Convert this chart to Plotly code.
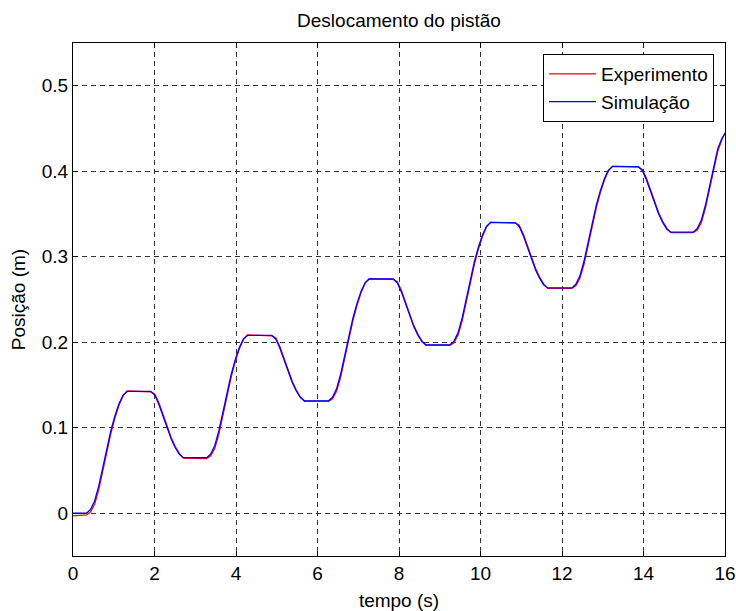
import plotly.graph_objects as go

# time samples (s)
t = [0.00, 0.33, 0.43, 0.53, 0.63, 0.73, 0.83, 0.93, 1.03, 1.13, 1.23, 1.33,
     1.91, 2.01, 2.11, 2.21, 2.31, 2.41, 2.51, 2.61, 2.71,
     3.28, 3.38, 3.48, 3.58, 3.68, 3.78, 3.88, 3.98, 4.08, 4.18, 4.28,
     4.88, 4.98, 5.08, 5.18, 5.28, 5.38, 5.48, 5.58, 5.68,
     6.27, 6.37, 6.47, 6.57, 6.67, 6.77, 6.87, 6.97, 7.07, 7.17, 7.27,
     7.86, 7.96, 8.06, 8.16, 8.26, 8.36, 8.46, 8.56, 8.66,
     9.25, 9.35, 9.45, 9.55, 9.65, 9.75, 9.85, 9.95, 10.05, 10.15, 10.25,
     10.85, 10.95, 11.05, 11.15, 11.25, 11.35, 11.45, 11.55, 11.65,
     12.24, 12.34, 12.44, 12.54, 12.64, 12.74, 12.84, 12.94, 13.04, 13.14, 13.24,
     13.87, 13.97, 14.07, 14.17, 14.27, 14.37, 14.47, 14.57, 14.67,
     15.22, 15.32, 15.42, 15.52, 15.62, 15.72, 15.82, 15.92, 16.00]

# Experimento (m)
experimento = [-0.003, -0.002, 0.0015, 0.0105, 0.0270, 0.0500, 0.0720, 0.0935, 0.1115, 0.1265, 0.1372, 0.1430,
               0.1420, 0.1392, 0.1290, 0.1150, 0.1010, 0.0885, 0.0780, 0.0700, 0.0645,
               0.0640, 0.0672, 0.0760, 0.0925, 0.1150, 0.1370, 0.1590, 0.1770, 0.1920, 0.2030, 0.2085,
               0.2075, 0.2050, 0.1945, 0.1808, 0.1670, 0.1545, 0.1442, 0.1362, 0.1310,
               0.1310, 0.1340, 0.1430, 0.1595, 0.1820, 0.2040, 0.2255, 0.2432, 0.2580, 0.2690, 0.2745,
               0.2735, 0.2708, 0.2605, 0.2465, 0.2326, 0.2200, 0.2098, 0.2018, 0.1965,
               0.1965, 0.1995, 0.2085, 0.2250, 0.2478, 0.2695, 0.2912, 0.3092, 0.3240, 0.3350, 0.3405,
               0.3395, 0.3368, 0.3265, 0.3126, 0.2990, 0.2865, 0.2762, 0.2682, 0.2630,
               0.2630, 0.2660, 0.2750, 0.2912, 0.3140, 0.3355, 0.3570, 0.3748, 0.3895, 0.4005, 0.4060,
               0.4050, 0.4022, 0.3920, 0.3782, 0.3642, 0.3518, 0.3415, 0.3335, 0.3282,
               0.3282, 0.3312, 0.3400, 0.3568, 0.3795, 0.4012, 0.4230, 0.4365, 0.4450]

# Simulação (m)
simulacao = [0.000, 0.000, 0.0043, 0.0143, 0.0314, 0.0542, 0.0755, 0.0969, 0.1140, 0.1283, 0.1382, 0.1425,
             0.1425, 0.1379, 0.1270, 0.1130, 0.0991, 0.0867, 0.0766, 0.0689, 0.0650,
             0.0650, 0.0693, 0.0793, 0.0965, 0.1193, 0.1408, 0.1622, 0.1794, 0.1937, 0.2037, 0.2080,
             0.2080, 0.2034, 0.1927, 0.1789, 0.1652, 0.1529, 0.1430, 0.1353, 0.1315,
             0.1315, 0.1358, 0.1458, 0.1629, 0.1857, 0.2070, 0.2284, 0.2455, 0.2598, 0.2698, 0.2740,
             0.2740, 0.2694, 0.2586, 0.2447, 0.2309, 0.2186, 0.2086, 0.2009, 0.1970,
             0.1970, 0.2013, 0.2113, 0.2285, 0.2513, 0.2728, 0.2942, 0.3114, 0.3257, 0.3357, 0.3400,
             0.3400, 0.3354, 0.3247, 0.3109, 0.2972, 0.2849, 0.2750, 0.2673, 0.2635,
             0.2635, 0.2678, 0.2777, 0.2947, 0.3175, 0.3388, 0.3601, 0.3771, 0.3913, 0.4013, 0.4055,
             0.4055, 0.4009, 0.3901, 0.3763, 0.3625, 0.3502, 0.3402, 0.3325, 0.3287,
             0.3287, 0.3330, 0.3430, 0.3602, 0.3830, 0.4045, 0.4259, 0.4380, 0.4440]

x_ticks = [0, 2, 4, 6, 8, 10, 12, 14, 16]
y_ticks = [0, 0.1, 0.2, 0.3, 0.4, 0.5]
y_tick_labels = ["0", "0.1", "0.2", "0.3", "0.4", "0.5"]

FONT = "Liberation Sans, Arial, sans-serif"

fig = go.Figure()
fig.add_trace(go.Scatter(x=t, y=experimento, mode="lines", name="Experimento",
                         line=dict(color="#ff0000", width=1.3)))
fig.add_trace(go.Scatter(x=t, y=simulacao, mode="lines", name="Simulação",
                         line=dict(color="#0000ff", width=1.3)))

axis_common = dict(
    showline=True, linecolor="black", linewidth=1, mirror="ticks",
    ticks="inside", ticklen=5, tickcolor="black", automargin=False,
    showgrid=True, gridcolor="#333333", gridwidth=1, griddash="5px,4px",
    zeroline=False, tickfont=dict(size=19, color="black", family=FONT),
)

fig.update_layout(
    width=736, height=611,
    margin=dict(l=73, r=11, t=43, b=55, autoexpand=False),
    paper_bgcolor="white", plot_bgcolor="white",
    font=dict(family=FONT, color="black", size=18),
    title=dict(text="Deslocamento do pistão", x=0.5, xref="paper",
               y=1 - 20 / 611, yref="container", yanchor="middle", xanchor="center",
               font=dict(size=19, family=FONT, color="black")),
    xaxis=dict(range=[0, 16], tickvals=x_ticks, title=dict(text="tempo (s)", standoff=10,
               font=dict(size=19)), **axis_common),
    yaxis=dict(range=[-0.05, 0.55], tickvals=y_ticks, ticktext=y_tick_labels,
               title=dict(text="Posição (m)", standoff=11, font=dict(size=19)), **axis_common),
    legend=dict(x=0.9832, xanchor="right", y=0.9786, yanchor="top",
                bgcolor="white", bordercolor="black", borderwidth=1,
                font=dict(size=19, family=FONT), itemwidth=47, tracegroupgap=0),
    showlegend=True,
)

fig.write_html("out.html")
